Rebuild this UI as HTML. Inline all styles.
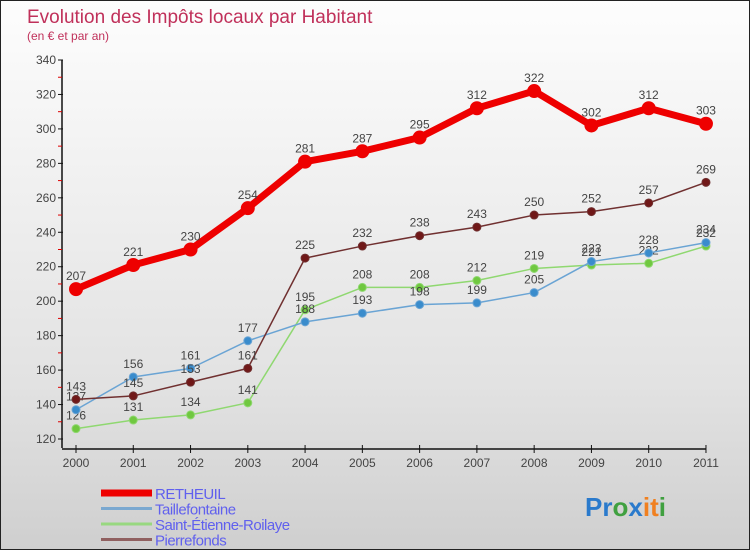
<!DOCTYPE html>
<html><head><meta charset="utf-8"><style>
body{margin:0;}
#wrap{width:748px;height:548px;border:1px solid #222;background:linear-gradient(#fdfdfd,#e2e2e2 70%,#cfcfcf);position:relative;overflow:hidden;font-family:"Liberation Sans",sans-serif;}
</style></head><body>
<div id="wrap">
<svg id="svg" width="748" height="548"></svg>
</div>
<script>
const years=["2000","2001","2002","2003","2004","2005","2006","2007","2008","2009","2010","2011"];
const retheuil=[207,221,230,254,281,287,295,312,322,302,312,303];
const taille=[137,156,161,177,188,193,198,199,205,223,228,234];
const saint=[126,131,134,141,195,208,208,212,219,221,222,232];
const pierre=[143,145,153,161,225,232,238,243,250,252,257,269];
const yTicks=[120,140,160,180,200,220,240,260,280,300,320,340];
const NS="http://www.w3.org/2000/svg";
const svg=document.getElementById('svg');
function X(i){return 75+i*57.27;}
function Y(v){return 438-(v-120)*1.7227;}
function mk(t,a,p){const e=document.createElementNS(NS,t);for(const k in a)e.setAttribute(k,a[k]);(p||svg).appendChild(e);return e;}
function txt(x,y,s,a){const e=mk('text',Object.assign({x:x,y:y},a));e.textContent=s;return e;}
let t=txt(26,22,'Evolution des Impôts locaux par Habitant',{'font-size':19,fill:'#c0305a'});

t=txt(26,39,'(en € et par an)',{'font-size':12,fill:'#c0305a'});

let ax=mk('line',{x1:61,y1:Y(340),x2:61,y2:Y(120)+9,stroke:'#111','stroke-width':1.5});

ax=mk('line',{x1:61,y1:448,x2:X(11),y2:448,stroke:'#111','stroke-width':1.5});

yTicks.forEach((v,i)=>{
 mk('line',{x1:57,y1:Y(v),x2:62,y2:Y(v),stroke:'#111'});
 if(i<yTicks.length-1)mk('line',{x1:57,y1:Y(v+10),x2:61,y2:Y(v+10),stroke:'#d00'});
 const l=txt(55,Y(v)+4,v,{'font-size':12,fill:'#444','text-anchor':'end'});
 
});
years.forEach((y,i)=>{
 mk('line',{x1:X(i),y1:444,x2:X(i),y2:452,stroke:'#111'});
 const l=txt(X(i),466,y,{'font-size':12,fill:'#444','text-anchor':'middle'});
 
});
function series(data,color,fill,w,r,name){
 const g=mk('g',{});
 
 mk('polyline',{points:data.map((v,i)=>X(i)+','+Y(v)).join(' '),fill:'none',stroke:color,'stroke-width':w,'stroke-linejoin':'round'},g);
 data.forEach((v,i)=>{
  const c=mk('circle',{cx:X(i),cy:Y(v),r:r,fill:fill,stroke:color,'stroke-width':1},g);
  
  const l=txt(X(i),Y(v)-9,v,{'font-size':12,fill:'#444','text-anchor':'middle'},g);
  
 });
}
series(saint,'#8fd870','#70c840',1.5,4,'saint-etienne-roilaye');
series(taille,'#6aa4d4','#3a8ccc',1.5,4,'taillefontaine');
series(pierre,'#703030','#701818',1.5,4,'pierrefonds');
series(retheuil,'#ee0000','#ee0000',7,6.5,'retheuil');
const legend=[['RETHEUIL','#ee0000',7],['Taillefontaine','#7aa8d0',3],['Saint-Étienne-Roilaye','#98d880',3],['Pierrefonds','#906060',3]];
legend.forEach((L,i)=>{
 const y=492+i*15.5;
 const g=mk('g',{});
 mk('line',{x1:100,y1:y,x2:151,y2:y,stroke:L[1],'stroke-width':L[2]},g);
 txt(154,y+6,L[0],{'font-size':15,fill:'#6060ee','letter-spacing':'-0.5'},g);
});
const p=mk('text',{x:584,y:515,'font-size':26,'font-weight':'bold'});

[['P','#2a7acc'],['r','#2a7acc'],['o','#40a040'],['x','#2a7acc'],['i','#f08020'],['t','#f08020'],['i','#40a040']].forEach(c=>{const s=mk('tspan',{fill:c[1]},p);s.textContent=c[0];});
</script>
</body></html>
